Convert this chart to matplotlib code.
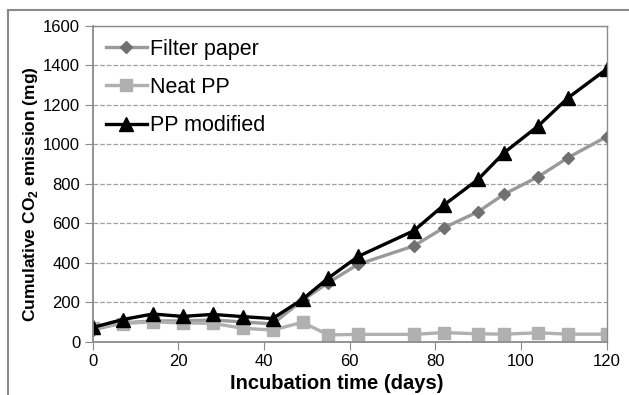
import matplotlib.pyplot as plt
from matplotlib.patches import Rectangle

plt.rcParams['font.family'] = ['Liberation Sans', 'DejaVu Sans']
plt.rcParams['mathtext.fontset'] = 'custom'
plt.rcParams['mathtext.bf'] = 'Liberation Sans:bold'
plt.rcParams['mathtext.rm'] = 'Liberation Sans'

days = [0, 7, 14, 21, 28, 35, 42, 49, 55, 62, 75, 82, 90, 96, 104, 111, 120]
filter_paper = [60, 95, 105, 105, 110, 100, 90, 210, 299, 392, 485, 577, 658, 746, 835, 932, 1038]
neat_pp = [68, 92, 100, 95, 93, 68, 59, 98, 34, 37, 37, 46, 40, 38, 45, 38, 38]
pp_modified = [72, 112, 140, 128, 138, 127, 117, 215, 322, 432, 562, 692, 822, 956, 1092, 1235, 1380]

fig = plt.figure(figsize=(6.29, 3.95), dpi=100)
ax = fig.add_axes([0.1474, 0.135, 0.8171, 0.80])

# outer frame around the whole chart
fig.patches.append(Rectangle((7.5 / 629, -0.05), 1.05, 1.05 - 10 / 395,
                             transform=fig.transFigure, fill=False,
                             edgecolor='#8a8a8a', linewidth=1.5))

ax.plot(days, filter_paper, '-D', color='#9a9a9a', markerfacecolor='#707070',
        markeredgecolor='#707070', markersize=6.5, linewidth=2.4, label='Filter paper')
ax.plot(days, neat_pp, '-s', color='#b0b0b0', markersize=9, linewidth=2.4,
        label='Neat PP')
ax.plot(days, pp_modified, '-^', color='black', markersize=10.5, linewidth=2.4,
        label='PP modified')

ax.set_xlim(0, 120)
ax.set_ylim(0, 1600)
ax.set_xticks(range(0, 121, 20))
ax.set_yticks(range(0, 1601, 200))
ax.yaxis.grid(True, linestyle='--', color='#a0a0a0', linewidth=0.9)
ax.set_axisbelow(True)
for s in ax.spines.values():
    s.set_color('#8a8a8a')
    s.set_linewidth(1.0)
ax.spines['left'].set_linewidth(1.3)
ax.spines['bottom'].set_linewidth(1.3)
ax.tick_params(axis='both', direction='out', length=6, color='#8a8a8a',
               labelsize=12, pad=3)

ax.set_xlabel('Incubation time (days)', fontsize=14.5, fontweight='bold')
ax.set_ylabel(r'Cumulative CO$_\mathbf{2}$ emission (mg)', fontsize=12.5,
              fontweight='bold')
ax.xaxis.set_label_coords(0.474, -0.102)
ax.yaxis.set_label_coords(-0.1025, 0.467)

ax.legend(loc='upper left', bbox_to_anchor=(0.0, 1.0), frameon=False,
          fontsize=15.5, handlelength=1.9, handletextpad=0.15, labelspacing=0.8,
          borderaxespad=0.2)

fig.savefig('out.png', dpi=100)
